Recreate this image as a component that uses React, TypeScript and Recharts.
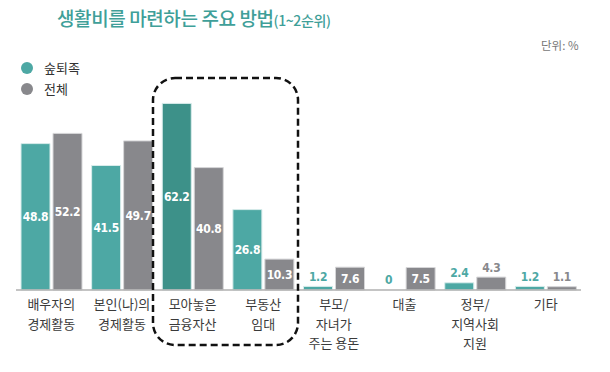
import { BarChart, Bar, XAxis, YAxis, Cell, LabelList } from 'recharts';

const categories = ['배우자의\n경제활동', '본인(나)의\n경제활동', '모아놓은\n금융자산', '부동산\n임대', '부모/\n자녀가\n주는 용돈', '대출', '정부/\n지역사회\n지원', '기타'];
const retireValues = [48.8, 41.5, 62.2, 26.8, 1.2, 0, 2.4, 1.2];
const totalValues = [52.2, 49.7, 40.8, 10.3, 7.6, 7.5, 4.3, 1.1];
const highlightIndex = 2;

const TEAL = '#4da8a4';
const TEAL_DARK = '#3d9189';
const GRAY = '#88888c';
const KFONT = '"Noto Sans CJK KR", "Noto Sans", sans-serif';

const data = categories.map((name, i) => ({
  name,
  retire: retireValues[i],
  total: totalValues[i],
}));

// value label: inside the bar when tall enough, otherwise above it
const makeLabel = (color: string) => (props: any) => {
  const { x, y, width, height, value } = props;
  const inside = value >= 5;
  const cx = x + width / 2;
  const cy = inside ? y + height / 2 : y - 10;
  return (
    <text
      x={cx}
      y={cy}
      dy={4.5}
      textAnchor="middle"
      fill={inside ? '#ffffff' : color}
      fontFamily='"DejaVu Sans Condensed", sans-serif'
      fontWeight="bold"
      fontSize={12}
      letterSpacing={-0.3}
    >
      {value}
    </text>
  );
};

const CategoryTick = (props: any) => {
  const { x, y, payload } = props;
  const lines = String(payload.value).split('\n');
  return (
    <text x={x} y={y} textAnchor="middle" fill="#3a3a3a" fontFamily={KFONT} fontSize={13}>
      {lines.map((line, i) => (
        <tspan key={i} x={x} dy={i === 0 ? 11 : 19.5}>
          {line}
        </tspan>
      ))}
    </text>
  );
};

export default function App() {
  return (
    <div style={{ position: 'absolute', left: 0, top: 0, width: 610, height: 372, background: '#fff' }}>
      <div
        style={{
          position: 'absolute',
          left: 57,
          top: 4,
          fontFamily: KFONT,
          color: '#3f9f99',
          fontSize: 19,
          fontWeight: 500,
          whiteSpace: 'nowrap',
          letterSpacing: -0.4,
        }}
      >
        생활비를 마련하는 주요 방법<span style={{ fontSize: 14 }}>(1~2순위)</span>
      </div>
      <div
        style={{
          position: 'absolute',
          left: 541,
          top: 37,
          fontFamily: KFONT,
          color: '#777',
          fontSize: 11.5,
          whiteSpace: 'nowrap',
        }}
      >
        단위: %
      </div>
      {[
        { label: '숲퇴족', color: TEAL, top: 58 },
        { label: '전체', color: GRAY, top: 79 },
      ].map((item) => (
        <div
          key={item.label}
          style={{ position: 'absolute', left: 21, top: item.top, display: 'flex', alignItems: 'center', fontFamily: KFONT, fontSize: 13, color: '#333' }}
        >
          <span style={{ width: 12, height: 12, borderRadius: 6, background: item.color, display: 'inline-block', marginRight: 11 }} />
          {item.label}
        </div>
      ))}
      <BarChart
        width={610}
        height={372}
        data={data}
        margin={{ top: 80, right: 29, bottom: 22, left: 16 }}
        barGap={3}
        barSize={29}
      >
        <XAxis
          dataKey="name"
          axisLine={{ stroke: '#b0b0b0', strokeWidth: 1.5 }}
          tickLine={false}
          interval={0}
          height={60}
          tick={<CategoryTick />}
        />
        <YAxis hide domain={[0, 70]} />
        <Bar dataKey="retire" fill={TEAL} stroke="#d8eceb" strokeWidth={1} minPointSize={0.01} isAnimationActive={false}>
          {data.map((d, i) => (
            <Cell
              key={i}
              fill={i === highlightIndex ? TEAL_DARK : TEAL}
              fillOpacity={d.retire === 0 ? 0 : 1}
              strokeOpacity={d.retire === 0 ? 0 : 1}
            />
          ))}
          <LabelList dataKey="retire" content={makeLabel(TEAL)} />
        </Bar>
        <Bar dataKey="total" fill={GRAY} stroke="#d6d6d8" strokeWidth={1} isAnimationActive={false}>
          <LabelList dataKey="total" content={makeLabel(GRAY)} />
        </Bar>
      </BarChart>
      <svg width={610} height={372} style={{ position: 'absolute', left: 0, top: 0, pointerEvents: 'none' }}>
        <rect x={153} y={78} width={145} height={267} rx={22} ry={22} fill="none" stroke="#111" strokeWidth={2.5} strokeDasharray="7 4" />
      </svg>
    </div>
  );
}
